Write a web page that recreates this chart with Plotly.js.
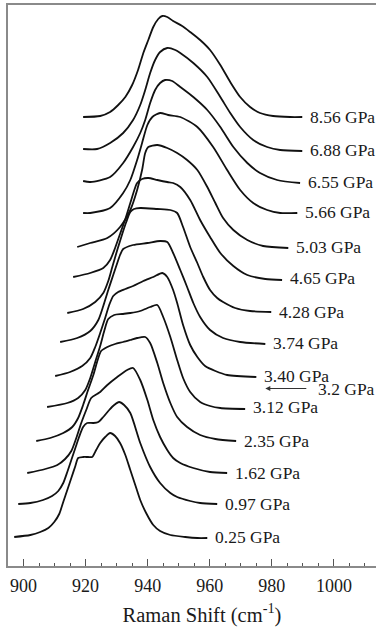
<!DOCTYPE html>
<html>
<head>
<meta charset="utf-8">
<script src="https://cdn.plot.ly/plotly-3.0.1.min.js"></script>
<style>
  html, body { margin: 0; padding: 0; overflow: hidden; background: #fff; }
  #chart { width: 398px; height: 631px; }
</style>
</head>
<body>
<div id="chart"></div>
<script>
// Stacked Raman spectra of the ~940 cm-1 band under pressure.
// Intensities are normalised and shifted upward by a per-spectrum offset.

const pressures = ['0.25', '0.97', '1.62', '2.35', '3.12', '3.40', '3.74',
                   '4.28', '4.65', '5.03', '5.66', '6.55', '6.88', '8.56'];
const offsets = [29, 62, 93, 125, 159, 190, 223, 254, 288, 319, 354, 384, 416, 449];

// Raman shift (cm-1) and normalised intensity for each pressure
const shift_025 = [897.0, 902.2, 905.4, 908.0, 909.9, 911.5, 912.8, 914.1, 915.4, 916.7, 917.6, 919.2, 920.8, 922.1, 923.4, 924.7, 926.3, 927.9, 929.5, 931.1, 932.8, 934.4, 936.0, 937.6, 939.5, 941.8, 944.0, 947.3, 952.1, 956.0, 959.2];
const inten_025 = [0, 2, 5, 9, 15, 23, 35, 47, 59, 71, 79, 80, 80, 80, 87, 94, 100, 104, 101, 94, 82, 67, 52, 37, 24, 12, 6, 2, 0, -1, -1];

const shift_097 = [898.3, 902.2, 906.3, 909.2, 911.2, 912.8, 914.1, 915.4, 916.7, 917.9, 919.2, 920.5, 922.5, 924.1, 925.7, 927.6, 929.2, 930.8, 932.4, 934.4, 937.6, 940.8, 944.0, 947.3, 949.5, 953.7, 956.9, 962.4];
const inten_097 = [0, 1, 4, 8, 13, 21, 32, 44, 56, 67, 77, 81, 81, 82, 87, 94, 99, 102, 99, 91, 61, 37, 21, 11, 7, 3, 1, 0];

const shift_162 = [901.2, 907.0, 910.9, 913.4, 915.4, 917.0, 918.6, 920.2, 921.8, 923.7, 924.7, 927.0, 930.2, 933.4, 935.3, 937.6, 939.9, 941.8, 944.0, 946.3, 948.2, 950.5, 954.7, 960.1, 965.6];
const inten_162 = [0, 4, 8, 14, 22, 35, 50, 63, 75, 79, 81, 88, 96, 103, 105, 93, 73, 53, 36, 23, 15, 10, 5, 1, 0];

const shift_235 = [904.1, 908.6, 912.8, 915.7, 917.6, 919.2, 920.8, 922.5, 923.7, 925.0, 927.0, 929.5, 932.1, 934.4, 936.6, 939.2, 940.8, 943.1, 945.0, 947.3, 949.5, 952.7, 956.9, 961.8, 968.5];
const inten_235 = [0, 3, 8, 14, 23, 36, 51, 66, 79, 90, 94, 97, 99, 101, 103, 104, 98, 78, 58, 38, 24, 14, 6, 2, 0];

const shift_312 = [907.6, 914.1, 917.6, 919.9, 921.5, 923.1, 924.7, 926.0, 927.3, 929.2, 931.8, 934.4, 937.6, 940.8, 943.1, 945.0, 947.3, 949.5, 951.4, 953.7, 956.9, 960.1, 963.4, 971.4];
const inten_312 = [0, 4, 9, 17, 29, 45, 61, 76, 88, 92, 93, 94, 96, 100, 102, 90, 70, 47, 29, 15, 5, 1, -1, -2];

const shift_340 = [910.2, 915.0, 918.9, 921.5, 923.1, 924.7, 926.3, 927.6, 928.9, 930.5, 932.8, 935.3, 938.6, 941.8, 944.7, 946.3, 948.2, 949.5, 951.4, 953.7, 956.0, 958.5, 961.8, 965.6, 975.0];
const inten_340 = [0, 4, 10, 18, 29, 43, 58, 71, 80, 84, 87, 90, 95, 99, 103, 99, 86, 73, 51, 31, 19, 10, 5, 1, -1];

const shift_374 = [911.8, 917.3, 921.5, 924.1, 925.7, 927.3, 928.9, 930.2, 931.1, 932.1, 935.3, 939.9, 944.0, 946.3, 948.2, 950.5, 952.7, 954.7, 956.9, 960.1, 964.3, 969.8, 977.9];
const inten_374 = [1, 5, 12, 23, 37, 53, 68, 80, 88, 94, 98, 100, 102, 101, 90, 73, 56, 40, 26, 13, 5, 1, -1];

const shift_428 = [914.1, 919.2, 923.1, 925.7, 927.3, 928.6, 930.2, 931.8, 933.1, 934.4, 935.6, 937.6, 943.1, 947.3, 949.5, 951.4, 953.7, 956.0, 957.9, 960.1, 962.4, 964.3, 968.2, 973.0, 979.8];
const inten_428 = [-1, 3, 10, 19, 31, 45, 62, 78, 90, 100, 103, 104, 103, 102, 99, 85, 65, 49, 35, 22, 14, 10, 4, 1, 0];

const shift_465 = [916.0, 921.5, 925.7, 927.9, 929.5, 931.1, 932.8, 934.4, 935.7, 936.6, 938.2, 940.2, 943.1, 946.3, 948.2, 950.5, 953.7, 956.9, 960.1, 963.4, 967.6, 972.1, 977.9, 983.3];
const inten_465 = [1, 5, 10, 18, 30, 44, 59, 75, 88, 95, 99, 100, 98, 96, 95, 91, 78, 58, 41, 25, 12, 3, -1, -2];

const shift_503 = [917.3, 921.5, 927.0, 931.1, 934.4, 936.6, 938.2, 939.2, 940.2, 943.1, 946.3, 949.5, 952.7, 956.0, 959.2, 961.8, 964.3, 967.6, 972.1, 977.2, 985.3];
const inten_503 = [0, 4, 9, 20, 37, 57, 77, 94, 100, 102, 99, 94, 87, 77, 60, 44, 29, 17, 7, 1, -1];

const shift_566 = [919.2, 921.5, 927.9, 932.1, 934.4, 936.6, 938.2, 939.9, 941.5, 944.0, 946.6, 950.5, 956.0, 961.1, 965.6, 969.8, 974.0, 978.5, 982.7, 988.2];
const inten_566 = [-1, -1, 4, 19, 32, 52, 69, 87, 95, 99, 97, 95, 85, 65, 42, 22, 9, 2, -1, -1];

const shift_655 = [919.2, 921.5, 927.9, 932.1, 935.3, 937.6, 939.2, 940.8, 942.4, 944.0, 945.6, 947.9, 950.5, 954.7, 959.2, 963.4, 967.6, 972.1, 976.2, 981.7, 989.1];
const inten_655 = [1, 0, 5, 19, 35, 49, 62, 79, 92, 99, 102, 101, 95, 85, 72, 55, 35, 19, 9, 2, -1];

const shift_688 = [919.2, 923.7, 927.9, 932.1, 935.3, 937.6, 939.2, 940.8, 942.4, 944.0, 946.3, 948.9, 950.5, 954.7, 959.2, 963.4, 966.6, 969.8, 974.0, 978.5, 982.7, 989.8];
const inten_688 = [1, 1, 7, 17, 30, 45, 60, 77, 90, 98, 102, 100, 97, 87, 73, 53, 37, 23, 10, 3, 0, -1];

const shift_856 = [919.2, 924.7, 927.9, 930.5, 932.8, 935.0, 936.9, 938.6, 940.2, 941.8, 943.4, 944.7, 946.3, 948.2, 951.1, 953.7, 956.9, 960.1, 963.4, 966.6, 969.8, 973.0, 976.2, 980.4, 985.9, 989.8];
const inten_856 = [0, 1, 5, 12, 20, 32, 47, 64, 77, 90, 98, 101, 100, 96, 91, 85, 77, 67, 52, 35, 20, 10, 4, 1, 0, 0];

const shifts = [shift_025, shift_097, shift_162, shift_235, shift_312, shift_340, shift_374,
                shift_428, shift_465, shift_503, shift_566, shift_655, shift_688, shift_856];
const intens = [inten_025, inten_097, inten_162, inten_235, inten_312, inten_340, inten_374,
                inten_428, inten_465, inten_503, inten_566, inten_655, inten_688, inten_856];

// transition pressure, marked by an arrow between the 3.12 and 3.40 GPa spectra
const transitionLabel = '3.2 GPa';
const transitionArrowTip = 977.9;   // cm-1

const serif = '"Liberation Serif", "Times New Roman", Times, serif';

const traces = pressures.map((p, i) => ({
  type: 'scatter',
  mode: 'lines',
  x: shifts[i],
  y: intens[i].map(v => v + offsets[i]),
  line: { color: '#111', width: 1.8, shape: 'spline', smoothing: 0.7 },
  hoverinfo: 'skip',
  showlegend: false
}));

const annotations = pressures.map((p, i) => ({
  x: shifts[i][shifts[i].length - 1] + 1.8,
  y: offsets[i],
  xref: 'x', yref: 'y',
  text: p + ' GPa',
  showarrow: false,
  xanchor: 'left', yanchor: 'middle',
  font: { family: serif, size: 17.5, color: '#1a1a1a' }
}));

annotations.push({
  x: transitionArrowTip, y: (offsets[4] + offsets[5]) / 2 + 3,
  xref: 'x', yref: 'y',
  ax: 81, ay: 0, axref: 'pixel', ayref: 'pixel',
  text: transitionLabel, showarrow: true,
  startstandoff: 10,
  arrowhead: 2, arrowsize: 1, arrowwidth: 1, arrowcolor: '#333',
  font: { family: serif, size: 17.5, color: '#1a1a1a' }
});

const layout = {
  width: 398, height: 631,
  margin: { l: 8, r: 2, t: 5, b: 65 },
  paper_bgcolor: '#fff', plot_bgcolor: '#fff',
  showlegend: false,
  font: { family: serif, color: '#1a1a1a' },
  xaxis: {
    range: [895, 1020],
    tickvals: [900, 920, 940, 960, 980, 1000],
    ticks: 'inside', ticklen: 7, tickwidth: 1, tickcolor: '#555',
    minor: { dtick: 5, tick0: 900, ticks: 'inside', ticklen: 3.5, tickwidth: 1, tickcolor: '#555' },
    showgrid: false, zeroline: false,
    showline: true, linecolor: '#8a8a8a', linewidth: 2, mirror: true,
    tickfont: { family: serif, size: 18, color: '#1a1a1a' },
    ticklabelstandoff: 2,
    title: { text: 'Raman Shift (cm<sup>-1</sup>)', font: { family: serif, size: 20.5, color: '#1a1a1a' }, standoff: 13 },
    automargin: false
  },
  yaxis: {
    range: [0, 561],
    showticklabels: false, ticks: '',
    showgrid: false, zeroline: false,
    showline: true, linecolor: '#8a8a8a', linewidth: 2, mirror: true,
    automargin: false
  },
  annotations: annotations
};

Plotly.newPlot('chart', traces, layout, { staticPlot: true, displayModeBar: false });
</script>
</body>
</html>
